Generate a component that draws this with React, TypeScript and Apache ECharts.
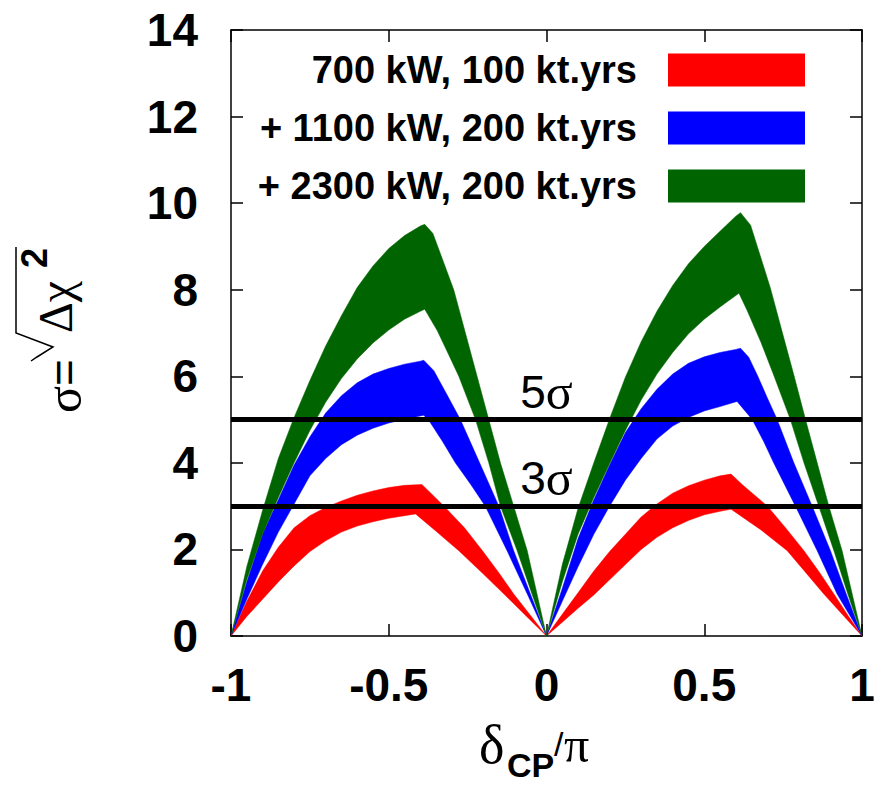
import React, { useEffect, useRef } from 'react';
import * as echarts from 'echarts';

// ---- data ----
const configNames = ['700 kW, 100 kt.yrs', '+ 1100 kW, 200 kt.yrs', '+ 2300 kW, 200 kt.yrs'];
const configColors = ['#ff0000', '#0000ff', '#006400'];

// red band: 700 kW, 100 kt.yrs
const redUpperL = [[-1, 0], [-0.95, 0.8], [-0.9, 1.5], [-0.85, 2.05], [-0.8, 2.5], [-0.75, 2.78], [-0.7, 2.97], [-0.65, 3.12], [-0.6, 3.25], [-0.55, 3.35], [-0.5, 3.43], [-0.45, 3.48], [-0.395, 3.5], [-0.36, 3.25], [-0.325, 3.0], [-0.26, 2.5], [-0.203, 1.97], [-0.15, 1.45], [-0.104, 0.97], [-0.05, 0.47], [0, 0]];
const redLowerL = [[-1, 0], [-0.95, 0.45], [-0.9, 0.85], [-0.85, 1.25], [-0.8, 1.62], [-0.75, 1.95], [-0.7, 2.2], [-0.65, 2.4], [-0.6, 2.54], [-0.55, 2.64], [-0.5, 2.72], [-0.45, 2.78], [-0.415, 2.82], [-0.35, 2.42], [-0.278, 1.97], [-0.2, 1.43], [-0.135, 0.97], [-0.07, 0.5], [0, 0]];
const redUpperR = [[0, 0], [0.05, 0.5], [0.1, 1.0], [0.15, 1.5], [0.2, 1.95], [0.25, 2.35], [0.3, 2.75], [0.35, 3.05], [0.4, 3.3], [0.45, 3.47], [0.5, 3.6], [0.55, 3.7], [0.585, 3.74], [0.62, 3.5], [0.7, 3.0], [0.76, 2.48], [0.816, 1.97], [0.865, 1.47], [0.911, 0.97], [0.955, 0.48], [1, 0]];
const redLowerR = [[0, 0], [0.05, 0.32], [0.1, 0.64], [0.15, 0.95], [0.2, 1.3], [0.25, 1.65], [0.3, 2.0], [0.35, 2.28], [0.4, 2.5], [0.45, 2.67], [0.5, 2.8], [0.55, 2.88], [0.585, 2.93], [0.68, 2.45], [0.763, 1.97], [0.82, 1.48], [0.879, 0.97], [0.94, 0.48], [1, 0]];

// blue band: + 1100 kW, 200 kt.yrs
const blueUpperL = [[-1, 0], [-0.95, 1.25], [-0.9, 2.35], [-0.85, 3.15], [-0.8, 3.95], [-0.75, 4.6], [-0.7, 5.15], [-0.65, 5.55], [-0.6, 5.85], [-0.55, 6.05], [-0.5, 6.18], [-0.45, 6.28], [-0.4, 6.35], [-0.389, 6.37], [-0.357, 6.13], [-0.315, 5.57], [-0.273, 5.0], [-0.212, 4.0], [-0.151, 3.0], [-0.104, 1.97], [-0.051, 0.97], [0, 0]];
const blueLowerL = [[-1, 0], [-0.95, 0.85], [-0.9, 1.65], [-0.85, 2.4], [-0.8, 3.05], [-0.75, 3.7], [-0.7, 4.1], [-0.65, 4.42], [-0.6, 4.64], [-0.55, 4.8], [-0.5, 4.92], [-0.45, 5.01], [-0.389, 5.1], [-0.37, 4.95], [-0.33, 4.5], [-0.289, 4.0], [-0.24, 3.5], [-0.194, 3.0], [-0.125, 1.97], [-0.061, 0.97], [0, 0]];
const blueUpperR = [[0, 0], [0.05, 1.1], [0.1, 2.25], [0.15, 3.15], [0.2, 3.95], [0.25, 4.7], [0.3, 5.25], [0.35, 5.7], [0.4, 6.05], [0.45, 6.3], [0.5, 6.45], [0.55, 6.55], [0.6, 6.62], [0.615, 6.65], [0.641, 6.44], [0.668, 6.03], [0.7, 5.5], [0.731, 5.0], [0.784, 4.0], [0.842, 3.0], [0.9, 1.97], [0.95, 0.97], [1, 0]];
const blueLowerR = [[0, 0], [0.05, 0.8], [0.1, 1.6], [0.15, 2.35], [0.2, 3.0], [0.25, 3.6], [0.3, 4.1], [0.35, 4.55], [0.4, 4.85], [0.45, 5.05], [0.5, 5.2], [0.55, 5.3], [0.604, 5.42], [0.652, 5.0], [0.688, 4.5], [0.72, 4.0], [0.789, 3.0], [0.858, 1.97], [0.921, 0.97], [1, 0]];

// green band: + 2300 kW, 200 kt.yrs
const greenUpperL = [[-1, 0], [-0.95, 1.6], [-0.9, 2.9], [-0.85, 4.1], [-0.8, 5.05], [-0.75, 5.9], [-0.7, 6.7], [-0.65, 7.4], [-0.6, 8.05], [-0.55, 8.55], [-0.5, 8.95], [-0.45, 9.25], [-0.4, 9.47], [-0.386, 9.51], [-0.36, 9.3], [-0.294, 8.0], [-0.257, 7.0], [-0.22, 6.0], [-0.183, 5.0], [-0.146, 4.0], [-0.104, 3.0], [-0.061, 1.97], [0, 0]];
const greenLowerL = [[-1, 0], [-0.95, 1.3], [-0.9, 2.35], [-0.85, 3.2], [-0.8, 4.0], [-0.75, 4.75], [-0.7, 5.4], [-0.65, 5.95], [-0.6, 6.4], [-0.55, 6.77], [-0.5, 7.07], [-0.45, 7.32], [-0.4, 7.5], [-0.386, 7.55], [-0.346, 7.05], [-0.31, 6.5], [-0.278, 6.0], [-0.225, 5.0], [-0.183, 4.0], [-0.146, 3.0], [-0.093, 1.97], [-0.045, 0.95], [0, 0]];
const greenUpperR = [[0, 0], [0.05, 1.65], [0.1, 2.95], [0.15, 4.0], [0.2, 5.02], [0.25, 5.98], [0.3, 6.8], [0.35, 7.5], [0.4, 8.1], [0.45, 8.6], [0.5, 9.0], [0.55, 9.35], [0.6, 9.7], [0.615, 9.78], [0.647, 9.49], [0.71, 8.03], [0.748, 7.0], [0.784, 6.03], [0.821, 5.0], [0.858, 4.0], [0.895, 3.0], [0.937, 1.97], [1, 0]];
const greenLowerR = [[0, 0], [0.05, 1.25], [0.1, 2.35], [0.15, 3.2], [0.2, 3.98], [0.25, 4.75], [0.3, 5.45], [0.35, 6.05], [0.4, 6.55], [0.45, 6.98], [0.5, 7.32], [0.55, 7.6], [0.61, 7.92], [0.636, 7.52], [0.68, 6.78], [0.72, 6.03], [0.773, 5.0], [0.816, 4.0], [0.863, 3.0], [0.911, 1.97], [0.955, 0.97], [1, 0]];

const bandHumps = [
  [[redUpperL, redLowerL], [redUpperR, redLowerR]],
  [[blueUpperL, blueLowerL], [blueUpperR, blueLowerR]],
  [[greenUpperL, greenLowerL], [greenUpperR, greenLowerR]],
];
const humpAnchors = [[-0.5, 0], [0.5, 0]];

const sigmaLevels = [5, 3];
const sigmaLabels = ['5', '3'];

const xMin = -1, xMax = 1, xInterval = 0.5;
const yMin = 0, yMax = 14, yInterval = 2;

const SANS = 'Liberation Sans';
const SERIF = 'Liberation Serif';

export default function App() {
  const ref = useRef<HTMLDivElement>(null);

  useEffect(() => {
    if (!ref.current) return;
    const chart = echarts.init(ref.current, undefined, { renderer: 'svg' });

    const bandSeries = configNames.map((name, i) => ({
      type: 'custom',
      name,
      coordinateSystem: 'cartesian2d',
      xAxisIndex: 0,
      yAxisIndex: 0,
      z: 2 + i,
      clip: true,
      itemStyle: { color: configColors[i] },
      data: humpAnchors,
      renderItem: (params: any, api: any) => {
        const [upper, lower] = bandHumps[i][params.dataIndex];
        const pts = upper
          .map((p: number[]) => api.coord(p))
          .concat(lower.slice().reverse().map((p: number[]) => api.coord(p)));
        return {
          type: 'polygon',
          shape: { points: pts },
          style: { fill: configColors[i], stroke: configColors[i], lineWidth: 0.5 },
        };
      },
    }));

    const sigmaSeries = {
      type: 'line',
      name: 'sigma',
      data: [],
      z: 10,
      xAxisIndex: 0,
      yAxisIndex: 0,
      markLine: {
        silent: true,
        symbol: 'none',
        animation: false,
        lineStyle: { color: '#000', width: 5, type: 'solid' },
        label: {
          show: true,
          position: 'insideMiddleTop',
          distance: 3,
          rich: {
            a: { fontFamily: SANS, fontSize: 46, color: '#000' },
            b: { fontFamily: SERIF, fontSize: 50, color: '#000' },
          },
        },
        data: sigmaLevels.map((v, k) => ({
          yAxis: v,
          label: { formatter: `{a|${sigmaLabels[k]}}{b|σ}` },
        })),
      },
    };

    const axisLineStyle = { color: '#000', width: 1.5 };
    const tickStyle = { show: true, inside: true, length: 12, lineStyle: { color: '#000', width: 1.5 } };
    const labelStyle = { fontFamily: SANS, fontWeight: 'bold', fontSize: 46, color: '#000' };

    const option: any = {
      animation: false,
      backgroundColor: '#fff',
      grid: { left: 231, right: 23, top: 30, bottom: 164, outerBoundsMode: 'none' },
      xAxis: [
        {
          type: 'value', min: xMin, max: xMax, interval: xInterval, position: 'bottom',
          axisLine: { show: true, onZero: false, lineStyle: axisLineStyle },
          axisTick: tickStyle,
          splitLine: { show: false },
          axisLabel: { ...labelStyle, margin: 26, showMinLabel: true, showMaxLabel: true, formatter: (v: number) => String(v) },
        },
        {
          type: 'value', min: xMin, max: xMax, interval: xInterval, position: 'top',
          axisLine: { show: true, onZero: false, lineStyle: axisLineStyle },
          axisTick: tickStyle,
          splitLine: { show: false },
          axisLabel: { show: false },
        },
      ],
      yAxis: [
        {
          type: 'value', min: yMin, max: yMax, interval: yInterval, position: 'left',
          axisLine: { show: true, onZero: false, lineStyle: axisLineStyle },
          axisTick: tickStyle,
          splitLine: { show: false },
          axisLabel: { ...labelStyle, margin: 33 },
        },
        {
          type: 'value', min: yMin, max: yMax, interval: yInterval, position: 'right',
          axisLine: { show: true, onZero: false, lineStyle: axisLineStyle },
          axisTick: tickStyle,
          splitLine: { show: false },
          axisLabel: { show: false },
        },
      ],
      legend: {
        data: configNames.map((n) => ({ name: n, icon: 'rect' })),
        orient: 'vertical',
        right: 80,
        top: 51,
        padding: 0,
        align: 'right',
        itemWidth: 137,
        itemHeight: 33,
        itemGap: 20,
        selectedMode: false,
        formatter: (n: string) => `${n}{g|}`,
        textStyle: {
          fontFamily: SANS, fontWeight: 'bold', fontSize: 38, color: '#000', lineHeight: 33,
          rich: { g: { width: 26 } },
        },
      },
      graphic: [
        // x-axis name: delta_CP / pi
        { type: 'text', left: 479, top: 718, style: { text: 'δ', font: `54px "${SERIF}"`, fill: '#000' } },
        { type: 'text', left: 507, top: 748, style: { text: 'CP', font: `bold 34px "${SANS}"`, fill: '#000' } },
        { type: 'text', left: 554, top: 727, style: { text: '/', font: `34px "${SANS}"`, fill: '#000' } },
        { type: 'text', left: 564, top: 720, style: { text: 'π', font: `50px "${SERIF}"`, fill: '#000' } },
        // y-axis name: sigma = sqrt(Delta chi^2), rotated
        {
          type: 'text', x: 64, y: 413, rotation: Math.PI / 2,
          style: {
            text: '{s|σ}{e|=}', textAlign: 'left', textVerticalAlign: 'middle',
            rich: {
              s: { fontFamily: SERIF, fontSize: 50, fill: '#000' },
              e: { fontFamily: SANS, fontSize: 46, fill: '#000' },
            },
          },
        },
        {
          type: 'polyline',
          shape: { points: [[31, 361], [37, 357], [53, 347], [16, 333], [16, 247]] },
          style: { stroke: '#000', lineWidth: 1.5, fill: null },
        },
        {
          type: 'text', x: 55, y: 333, rotation: Math.PI / 2,
          style: { text: 'Δχ', textAlign: 'left', textVerticalAlign: 'middle', font: `48px "${SERIF}"`, fill: '#000' },
        },
        {
          type: 'text', x: 34, y: 268, rotation: Math.PI / 2,
          style: { text: '2', textAlign: 'left', textVerticalAlign: 'middle', font: `bold 36px "${SANS}"`, fill: '#000' },
        },
      ],
      series: [...bandSeries, sigmaSeries],
    };

    chart.setOption(option);
    return () => chart.dispose();
  }, []);

  return (
    <div
      ref={ref}
      style={{ position: 'fixed', left: 0, top: 0, width: 885, height: 800, background: '#fff' }}
    />
  );
}
